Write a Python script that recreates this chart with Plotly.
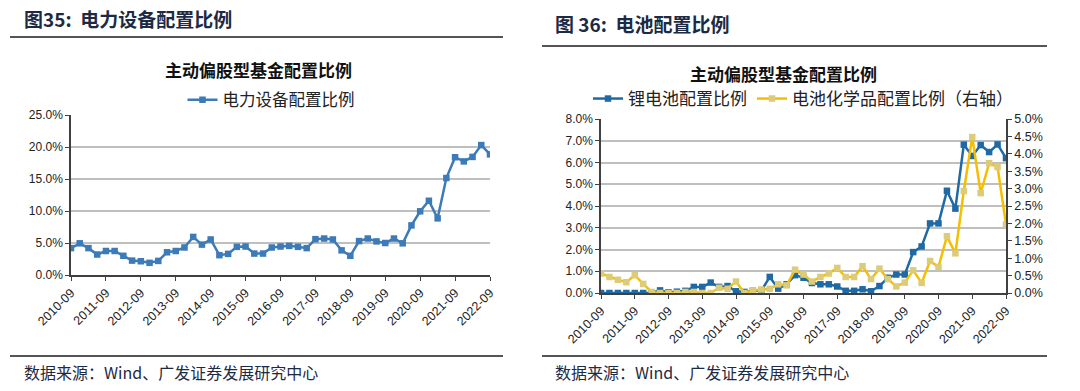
import plotly.graph_objects as go

years = list(range(2010, 2023))
quarters = []
for y in range(2010, 2023):
    for m in (3, 6, 9, 12):
        if (y == 2010 and m < 9) or (y == 2022 and m > 9):
            continue
        quarters.append(f"{y}-{m:02d}")
tick_labels = [f"{y}-09" for y in years]

power_equipment = [4.2, 4.95, 4.2, 3.2, 3.75, 3.75, 3.0, 2.25, 2.15, 1.9, 2.2, 3.55, 3.75,
                   4.3, 5.95, 4.75, 5.55, 3.1, 3.3, 4.4, 4.45, 3.35, 3.35, 4.3, 4.45, 4.55,
                   4.4, 4.2, 5.6, 5.7, 5.55, 3.85, 3.0, 5.3, 5.7, 5.25, 5.0, 5.7, 4.95, 7.75,
                   9.95, 11.6, 8.85, 15.15, 18.4, 17.75, 18.45, 20.3, 18.85]

lithium = [0, 0, 0, 0, 0, 0, 0, 0.12, 0.03, 0.06, 0.1, 0.28, 0.28, 0.48, 0.28, 0.32, 0.08,
           0.05, 0.1, 0.1, 0.74, 0.2, 0.4, 0.82, 0.7, 0.46, 0.4, 0.4, 0.3, 0.1, 0.1, 0.17,
           0.08, 0.32, 0.7, 0.85, 0.85, 1.88, 2.14, 3.2, 3.2, 4.7, 3.88, 6.82, 6.3, 6.8,
           6.48, 6.83, 6.2]

battery_chem = [0.56, 0.46, 0.38, 0.31, 0.51, 0.26, 0.03, 0, 0, 0, 0.03, 0.03, 0, 0, 0.15,
                0.12, 0.33, 0, 0.07, 0.1, 0.12, 0.25, 0.22, 0.67, 0.53, 0.33, 0.46, 0.56,
                0.72, 0.46, 0.46, 0.77, 0.4, 0.7, 0.4, 0.19, 0.3, 0.65, 0.29, 0.92, 0.75,
                1.63, 1.14, 2.93, 4.48, 2.87, 3.73, 3.62, 1.97]

W, H = 1080, 391
def px(x): return x / W
def py(y): return 1 - y / H

CJK = "Noto Sans CJK SC"
NUM = "Liberation Sans, Arial"
TXT = "#222222"

fig = go.Figure()

fig.add_trace(go.Scatter(
    x=quarters, y=power_equipment, name="电力设备配置比例", mode="lines+markers",
    line=dict(color="#3d7ab8", width=2.5), marker=dict(symbol="square", size=6.5, color="#3d7ab8"),
    xaxis="x", yaxis="y", legend="legend"))

fig.add_trace(go.Scatter(
    x=quarters, y=lithium, name="锂电池配置比例", mode="lines+markers",
    line=dict(color="#1f6aa5", width=2.5), marker=dict(symbol="square", size=6.5, color="#1f6aa5"),
    xaxis="x2", yaxis="y2", legend="legend2"))

fig.add_trace(go.Scatter(
    x=quarters, y=battery_chem, name="电池化学品配置比例（右轴）", mode="lines+markers",
    line=dict(color="#f5bf00", width=2.5), marker=dict(symbol="square", size=6.5, color="#dccb78"),
    xaxis="x2", yaxis="y3", legend="legend2"))

axis_common = dict(showline=True, linecolor="#404040", linewidth=1.5, ticks="outside",
                   ticklen=4, tickcolor="#404040", automargin=False,
                   tickfont=dict(family=NUM, size=12, color=TXT))

xcommon = dict(axis_common, type="category", tickangle=-45, tickvals=tick_labels,
               ticktext=tick_labels, range=[0, len(quarters) - 1], showgrid=False,
               tickfont=dict(family=NUM, size=12.5, color=TXT))

fig.update_layout(
    width=W, height=H, margin=dict(l=0, r=0, t=0, b=0, pad=0, autoexpand=False),
    paper_bgcolor="white", plot_bgcolor="white",
    xaxis=dict(xcommon, domain=[px(71), px(490)], anchor="y"),
    yaxis=dict(axis_common, domain=[py(275), py(115)], range=[0, 25], dtick=5,
               tickformat=".1f", ticksuffix="%", showgrid=True, gridcolor="#bfbfbf",
               gridwidth=1.5, zeroline=False, anchor="x"),
    xaxis2=dict(xcommon, domain=[px(601), px(1006)], anchor="y2"),
    yaxis2=dict(axis_common, domain=[py(293), py(119)], range=[0, 8], dtick=1,
                tickformat=".1f", ticksuffix="%", showgrid=True, gridcolor="#bfbfbf",
                gridwidth=1.5, zeroline=False, anchor="x2"),
    yaxis3=dict(axis_common, overlaying="y2", side="right", range=[0, 5], dtick=0.5,
                tickformat=".1f", ticksuffix="%", showgrid=False, zeroline=False,
                anchor="x2", tickfont=dict(family=NUM, size=12.5, color=TXT)),
    legend=dict(x=px(271), y=py(100), xanchor="center", yanchor="middle",
                orientation="h", font=dict(family=CJK, size=16.5, color=TXT),
                bgcolor="rgba(0,0,0,0)", itemwidth=30),
    legend2=dict(x=px(803), y=py(99), xanchor="center", yanchor="middle",
                 orientation="h", font=dict(family=CJK, size=17, color=TXT),
                 bgcolor="rgba(0,0,0,0)", itemwidth=30),
    showlegend=True,
)

annots = [
    dict(x=px(22), y=py(19), text="<b>图35:  电力设备配置比例</b>", xanchor="left",
         font=dict(family=CJK, size=19, color="#1d2a44")),
    dict(x=px(553), y=py(23), text="<b>图 36:  电池配置比例</b>", xanchor="left",
         font=dict(family=CJK, size=19, color="#1d2a44")),
    dict(x=px(258), y=py(70), text="<b>主动偏股型基金配置比例</b>", xanchor="center",
         font=dict(family=CJK, size=17, color="#111111")),
    dict(x=px(783), y=py(73), text="<b>主动偏股型基金配置比例</b>", xanchor="center",
         font=dict(family=CJK, size=17, color="#111111")),
    dict(x=px(22), y=py(372), text="数据来源：Wind、广发证券发展研究中心", xanchor="left",
         font=dict(family=CJK, size=16, color="#1d2a44")),
    dict(x=px(553), y=py(372), text="数据来源：Wind、广发证券发展研究中心", xanchor="left",
         font=dict(family=CJK, size=16, color="#1d2a44")),
]
for a in annots:
    fig.add_annotation(xref="paper", yref="paper", yanchor="middle", showarrow=False,
                       align="left", **a)

for x0, x1, y in [(10, 503, 37), (542, 1047, 46), (10, 503, 356), (542, 1047, 356)]:
    fig.add_shape(type="line", xref="paper", yref="paper", x0=px(x0), x1=px(x1),
                  y0=py(y), y1=py(y), line=dict(color="#555555", width=2))

fig.write_html("out.html", config={"displayModeBar": False},
               post_script="document.body.style.margin='0';document.body.style.overflow='hidden';")
